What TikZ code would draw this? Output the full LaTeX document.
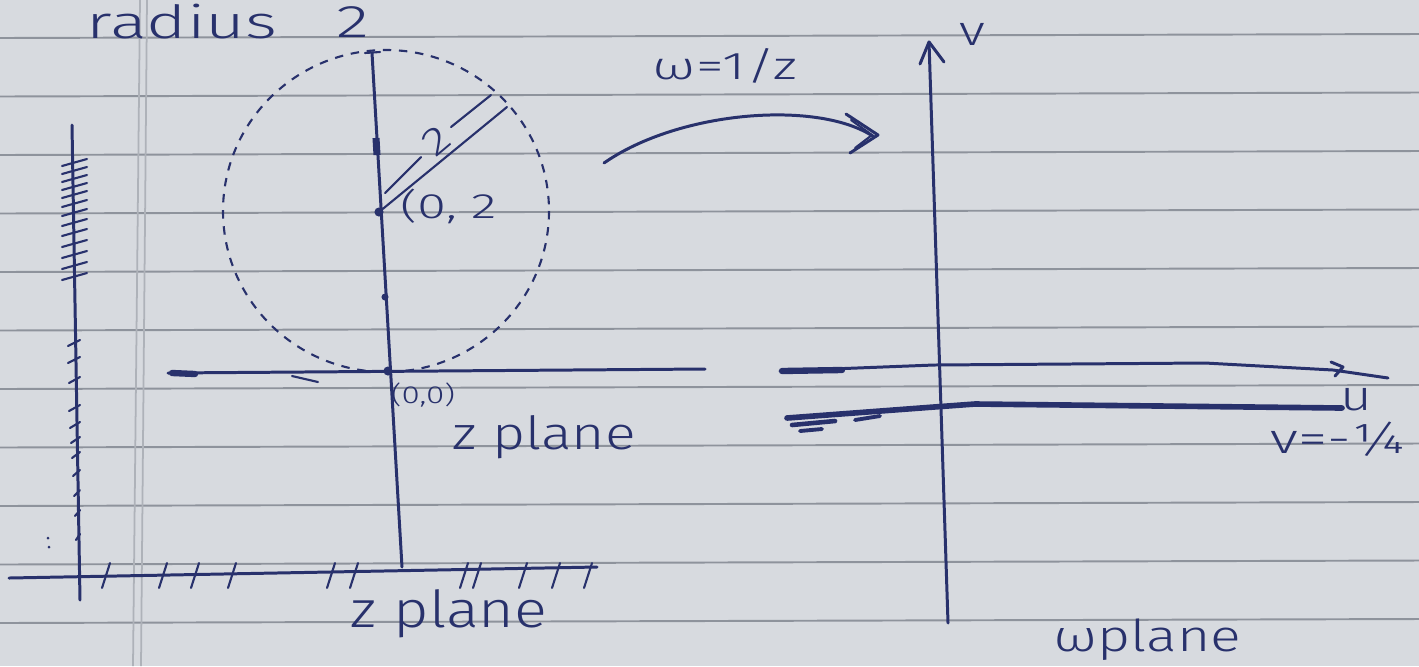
\documentclass[tikz,border=0pt]{standalone}
\usepackage{fontspec}
\setmainfont{Fira Sans}[UprightFont=* Light]
\usepackage{graphicx}
\definecolor{paper}{HTML}{D7DADF}
\definecolor{rulec}{HTML}{8E939C}
\definecolor{marginc}{HTML}{AEB2B9}
\definecolor{ink}{HTML}{28316C}
\newcommand{\hwx}[2]{\scalebox{#1}[1]{#2}}
\begin{document}
\begin{tikzpicture}[x=0.01cm,y=-0.01cm,
  inkline/.style={draw=ink, line width=0.85pt, line cap=round, line join=round},
  thinink/.style={draw=ink, line width=0.6pt, line cap=round},
  thickink/.style={draw=ink, line width=1.6pt, line cap=round, line join=round},
  ruled/.style={draw=rulec, line width=0.55pt},
  marginl/.style={draw=marginc, line width=0.5pt},
  hw/.style={text=ink, inner sep=0pt},
  dotn/.style={fill=ink, circle, inner sep=0pt, minimum size=2.6pt},
  circdash/.style={draw=ink, line width=0.6pt, dash pattern=on 2.4pt off 2.2pt}
]
\fill[paper] (0,0) rectangle (1419,666);
\useasboundingbox (0,0) rectangle (1419,666);
% paper rules
\foreach \k in {0,...,10}{
  \draw[ruled] (0,{38+58.5*\k}) -- (1419,{34+58.5*\k});
}
\draw[marginl] (140,0) -- (133,666);
\draw[marginl] (147,0) -- (141,666);

% ---------- left sketch ----------
\coordinate (lt) at (72,125);
\coordinate (lb) at (80,600);
\draw[inkline] (lt) -- (lb);
\foreach \y in {162,170,178,186,194,203,212,222,232,243,254,265,276}{
  \draw[thinink] (62,{\y+4}) -- (87,{\y-3});
}
\foreach \y/\l in {343/12,360/12,380/11,408/11,425/10,440/9,455/8,473/7,493/6,513/5,537/4}{
  \draw[thinink] ({80-\l},{\y+3}) -- (80,{\y-3});
}
\fill[ink] (48,538) circle[radius=1.5];
\fill[ink] (49,547) circle[radius=1.5];
\coordinate (bl) at (9,578);
\coordinate (br) at (597,567);
\draw[inkline] (bl) -- (br);
\foreach \x in {106,163,195,232,331,354,464,477,523,556,588}{
  \draw[thinink] ({\x-4},588) -- ({\x+4},563);
}

% ---------- z plane ----------
\coordinate (zt) at (372,53);
\coordinate (zb) at (402,567);
\draw[inkline] (zt) -- (zb);
\draw[thinink] (365,53) -- (380,52);
\draw[ink, line width=2pt] (376,138) -- (377,155);
\coordinate (xl) at (168,373);
\coordinate (xr) at (705,369);
\draw[inkline] (xl) -- (xr);
\draw[ink, line width=1.8pt, line cap=round] (172,373) -- (195,374);
\draw[thinink] (292,376) -- (318,382);
\draw[circdash] (386,211) ellipse [x radius=163, y radius=161];
\node[dotn] (o) at (388,371) {};
\node[dotn] (c) at (379,212) {};
\node[dotn, minimum size=2pt] (m) at (385,297) {};
\coordinate (re) at (507,107);
\draw[thinink] (c.center) -- (re);
\draw[thinink] (385,193) -- (421,157);
\draw[thinink] (451,127) -- (491,95);
\node[hw, rotate=40, font=\fontsize{11}{13}\selectfont] (rl) at (436,141) {\hwx{1.3}{2}};

\node[hw, font=\fontsize{13}{15}\selectfont] (rad) at (182,22) {\hwx{1.5}{radius}};
\node[hw, font=\fontsize{13}{15}\selectfont] (rad2) at (353,22) {\hwx{1.5}{2}};
\node[hw, anchor=west, font=\fontsize{10}{12}\selectfont] (lab02) at (400,206) {\hwx{1.5}{(0, 2}};
\node[hw, font=\fontsize{7}{9}\selectfont] (lab00) at (423,395) {\hwx{1.35}{(0,0)}};
\node[hw, font=\fontsize{13}{15}\selectfont] (zp1) at (544,437) {\hwx{1.25}{z plane}};
\node[hw, font=\fontsize{14.5}{16}\selectfont] (zp2) at (449,614) {\hwx{1.2}{z plane}};

% ---------- mapping arrow ----------
\coordinate (a0) at (604,163);
\coordinate (a1) at (874,137);
\draw[inkline] (a0) .. controls (680,110) and (820,100) .. (a1);
\draw[inkline] (846,114) -- (878,135) -- (850,153);
\draw[thinink] (851,120) -- (872,135) -- (855,148);
\node[hw, font=\fontsize{11}{13}\selectfont] (map) at (725,66) {\hwx{1.45}{ω=1/z}};

% ---------- w plane ----------
\coordinate (vt) at (929,42);
\coordinate (vb) at (948,623);
\draw[inkline] (vb) -- (vt);
\draw[inkline] (920,64) -- (vt) -- (944,62);
\node[hw, font=\fontsize{12}{14}\selectfont] (vlab) at (972,34) {\hwx{1.3}{v}};
\coordinate (ul) at (780,371);
\coordinate (ur) at (1388,378);
\draw[inkline] (ul) -- (934,365) -- (1205,363) -- (1333,370) -- (ur);
\draw[ink, line width=1.8pt, line cap=round] (782,371) -- (842,370);
\draw[inkline] (1331,362) -- (1343,367) -- (1335,376);
\node[hw, font=\fontsize{12}{14}\selectfont] (ulab) at (1356,400) {\hwx{1.3}{u}};
\coordinate (ql) at (787,418);
\coordinate (qr) at (1342,408);
\draw[thickink] (ql) -- (934,407) -- (975,404) -- (1159,406) -- (qr);
\draw[ink, line width=1.3pt, line cap=round] (792,425) -- (835,421);
\draw[ink, line width=1.1pt, line cap=round] (800,431) -- (822,429);
\draw[ink, line width=1.1pt, line cap=round] (855,420) -- (880,416);
\node[hw, font=\fontsize{12}{14}\selectfont] (qlab) at (1338,439) {\hwx{1.4}{v=-¼}};
\node[hw, font=\fontsize{12.5}{15}\selectfont] (wp) at (1147,640) {\hwx{1.3}{ωplane}};
\end{tikzpicture}
\end{document}
